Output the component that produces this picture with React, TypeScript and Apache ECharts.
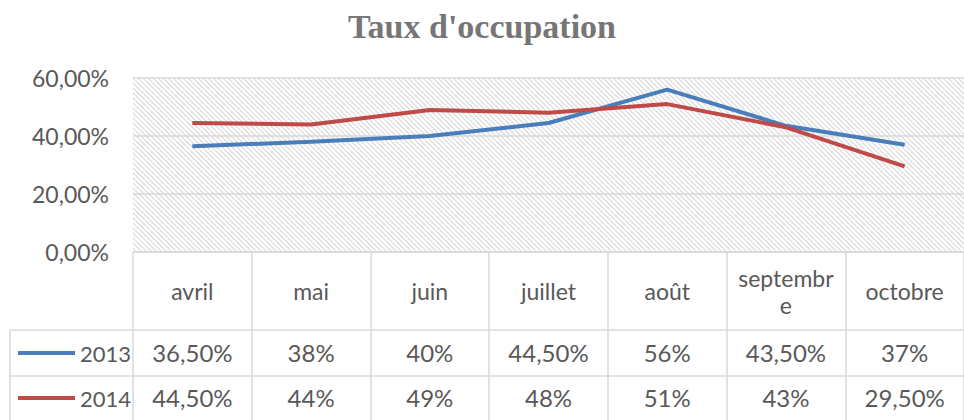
import React, { useEffect, useRef } from "react";
import * as echarts from "echarts";

const months = ["avril", "mai", "juin", "juillet", "août", "septembre", "octobre"];
const monthLabels = ["avril", "mai", "juin", "juillet", "août", "septembr\ne", "octobre"];
const series2013 = [0.365, 0.38, 0.4, 0.445, 0.56, 0.435, 0.37];
const series2014 = [0.445, 0.44, 0.49, 0.48, 0.51, 0.43, 0.295];
const seriesNames = ["2013", "2014"];
const seriesColors = ["#4a7ebb", "#be4b48"];
const yTicks = { min: 0, max: 0.6, interval: 0.2 };

const fmtPct = (v: number) => {
  const p = Math.round(v * 10000) / 100;
  if (Number.isInteger(p)) return p + "%";
  return p.toFixed(2).replace(".", ",") + "%";
};
const fmtAxis = (v: number) => (v * 100).toFixed(2).replace(".", ",") + "%";

const FONT = "Lato, sans-serif";
const TXT = "#595959";
const GRID = "#d9d9d9";

function hatch(): string {
  const s = 10;
  const c = document.createElement("canvas");
  c.width = s;
  c.height = s;
  const g = c.getContext("2d")!;
  g.fillStyle = "#ffffff";
  g.fillRect(0, 0, s, s);
  g.strokeStyle = "#dddddd";
  g.lineWidth = 1.3;
  for (const x0 of [-10, -5, 0, 5, 10]) {
    g.beginPath();
    g.moveTo(x0, 0);
    g.lineTo(x0 + s, s);
    g.stroke();
  }
  return c.toDataURL();
}

export default function App() {
  const ref = useRef<HTMLDivElement>(null);
  useEffect(() => {
    const chart = echarts.init(ref.current!, undefined, { renderer: "svg" });
    const top = 78;
    const axisY = 252;
    const left = 133;
    const legendBase = {
      left: 13,
      icon: "rect",
      itemWidth: 57,
      itemHeight: 4,
      textStyle: { fontFamily: FONT, fontSize: 22, color: TXT },
    };
    chart.setOption({
      animation: false,
      backgroundColor: "#ffffff",
      title: {
        text: "Taux d'occupation",
        left: "center",
        top: 4,
        textStyle: { fontFamily: "'Liberation Serif', serif", fontWeight: "bold", fontSize: 34, color: "#767676" },
      },
      legend: [
        { ...legendBase, top: 337, data: [seriesNames[0]] },
        { ...legendBase, top: 382, data: [seriesNames[1]] },
      ],
      grid: {
        left,
        right: -9,
        top,
        bottom: 420 - axisY,
        show: true,
        borderWidth: 0,
        backgroundColor: { image: hatch(), repeat: "repeat" },
      },
      xAxis: [
        {
          type: "category",
          data: months,
          position: "bottom",
          axisLine: { show: true, lineStyle: { color: GRID, width: 1.5 } },
          axisTick: { show: true, length: 78, lineStyle: { color: GRID, width: 1.5 } },
          axisLabel: {
            interval: 0,
            margin: 39,
            verticalAlign: "middle",
            lineHeight: 27,
            fontFamily: FONT,
            fontSize: 23,
            color: TXT,
            formatter: (_v: string, i: number) => monthLabels[i],
          },
        },
        {
          type: "category",
          data: series2013.map(fmtPct),
          position: "bottom",
          offset: 78,
          axisLine: { show: true, lineStyle: { color: GRID, width: 1.5 } },
          axisTick: { show: true, length: 46, lineStyle: { color: GRID, width: 1.5 } },
          axisLabel: { interval: 0, margin: 22, verticalAlign: "middle", fontFamily: FONT, fontSize: 24, color: TXT },
        },
        {
          type: "category",
          data: series2014.map(fmtPct),
          position: "bottom",
          offset: 124,
          axisLine: { show: true, lineStyle: { color: GRID, width: 1.5 } },
          axisTick: { show: true, length: 50, lineStyle: { color: GRID, width: 1.5 } },
          axisLabel: { interval: 0, margin: 21, verticalAlign: "middle", fontFamily: FONT, fontSize: 24, color: TXT },
        },
      ],
      yAxis: {
        type: "value",
        min: yTicks.min,
        max: yTicks.max,
        interval: yTicks.interval,
        axisLine: { show: false },
        axisTick: { show: false },
        splitLine: { show: true, lineStyle: { color: GRID, width: 1.5 } },
        axisLabel: { margin: 24, fontFamily: FONT, fontSize: 23, color: TXT, formatter: fmtAxis },
      },
      series: [
        {
          name: seriesNames[0],
          type: "line",
          data: series2013,
          symbol: "none",
          lineStyle: { color: seriesColors[0], width: 4 },
          itemStyle: { color: seriesColors[0] },
        },
        {
          name: seriesNames[1],
          type: "line",
          data: series2014,
          symbol: "none",
          lineStyle: { color: seriesColors[1], width: 4 },
          itemStyle: { color: seriesColors[1] },
        },
      ],
      graphic: [
        { type: "line", shape: { x1: 10, y1: 330, x2: left, y2: 330 }, style: { stroke: GRID, lineWidth: 1.5 } },
        { type: "line", shape: { x1: 10, y1: 376, x2: left, y2: 376 }, style: { stroke: GRID, lineWidth: 1.5 } },
        { type: "line", shape: { x1: 10, y1: 330, x2: 10, y2: 420 }, style: { stroke: GRID, lineWidth: 1.5 } },
      ],
    });
    return () => chart.dispose();
  }, []);
  return <div ref={ref} style={{ width: 964, height: 420, position: "absolute", left: 0, top: 0 }} />;
}
